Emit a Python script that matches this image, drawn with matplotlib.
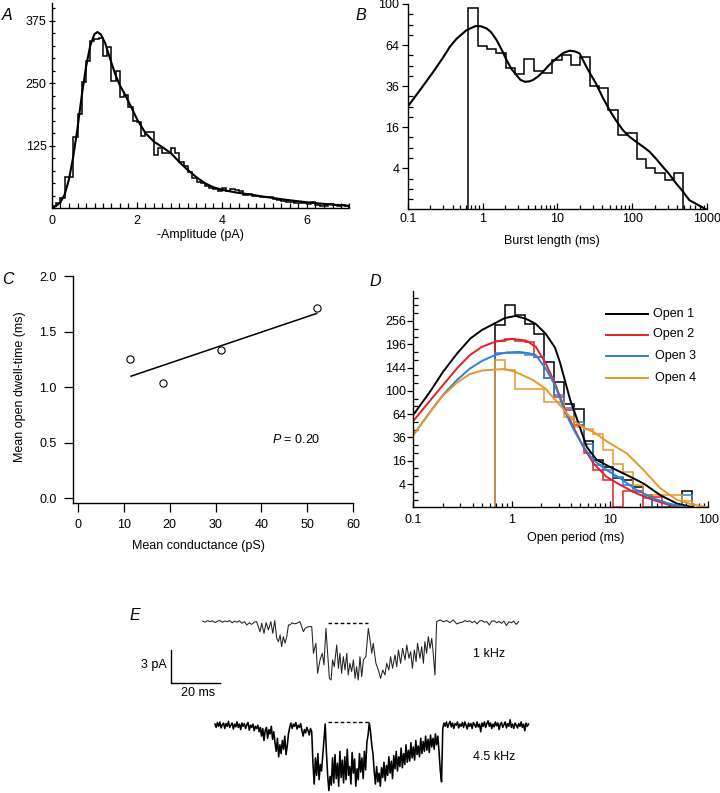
import numpy as np
import matplotlib
matplotlib.use('Agg')
import matplotlib.pyplot as plt
from matplotlib.lines import Line2D
from matplotlib.ticker import (FixedLocator, FixedFormatter, NullFormatter,
                               LogLocator, MultipleLocator, FormatStrFormatter)

plt.rcParams['font.family'] = ['Liberation Sans', 'DejaVu Sans']
plt.rcParams['mathtext.fontset'] = 'custom'
plt.rcParams['mathtext.it'] = 'Liberation Sans:italic'
plt.rcParams['mathtext.rm'] = 'Liberation Sans'

# ---------------- DATA ----------------
# A: amplitude histogram (bin width 0.1 pA, from 0)
amp_bin_width = 0.1
amp_counts = [5, 10, 20, 62, 62, 143, 188, 252, 295, 335,
              338, 340, 305, 322, 255, 275, 223, 227, 202, 175,
              173, 145, 153, 153, 107, 120, 110, 110, 120, 110,
              92, 85, 73, 60, 53, 50, 45, 40, 38, 35,
              41, 35, 38, 37, 35, 27, 28, 25, 25, 22,
              23, 23, 18, 17, 15, 13, 13, 11, 10, 11,
              9, 12, 7, 5, 5, 9, 7, 5, 6, 5]
amp_fit_x = [0, 0.1, 0.2, 0.3, 0.4, 0.5, 0.6, 0.7, 0.8, 0.9, 1.0, 1.07, 1.15, 1.25,
             1.4, 1.5, 1.6, 1.7, 1.8, 1.9, 2.0, 2.2, 2.4, 2.6, 2.8, 3.0, 3.2, 3.4,
             3.6, 3.8, 4.0, 4.3, 4.7, 5.0, 5.5, 6.0, 6.5, 7.0]
amp_fit_y = [0, 5, 12, 28, 58, 103, 160, 225, 282, 325, 348, 352, 347, 330,
             290, 265, 245, 230, 213, 196, 178, 150, 133, 122, 110, 92, 76, 62,
             50, 42, 37, 32, 27, 23, 17, 12, 8, 5]
amp_xticks = [0, 2, 4, 6]
amp_yticks = [125, 250, 375]

# B: burst length histogram (log bins, 8 per decade)
burst_first_edge = 0.643
burst_bins_per_decade = 8
burst_counts = [95.8, 63.3, 60.7, 57.7, 47.2, 43.4, 53.4, 45.6, 44.3, 52.9,
                56.5, 49.4, 54.8, 36.0, 35.1, 23.4, 13.1, 13.9, 5.9, 4.0,
                3.1, 2.0, 3.1]
burst_fit_x = [0.1, 0.146, 0.22, 0.3, 0.366, 0.45, 0.612, 0.81, 0.95, 1.13, 1.3,
               1.54, 1.8, 2.09, 2.45, 2.84, 3.2, 3.66, 4.2, 4.73, 5.5, 6.43, 7.8,
               9.7, 12, 14.6, 17, 19.8, 24.4, 28, 32.7, 40, 49.8, 60, 75, 90,
               113, 140, 170, 210, 256, 310, 386, 470, 580, 750, 970]
burst_fit_y = [25, 33.7, 44.9, 55, 62.7, 69, 76.2, 79.7, 79.5, 77.7, 74.5,
               68, 60.5, 52.9, 46.5, 42.8, 39.8, 38.6, 38.8, 39.7, 41.8, 44.9, 49.5,
               54, 58, 59.7, 59.2, 57.7, 48.3, 43, 37.7, 30, 23.4, 19, 14.9, 12.7,
               10.8, 9.3, 7.9, 6, 4.3, 3, 1.6, 0.8, 0.2, 0.05, 0]
burst_xticks = [0.1, 1, 10, 100, 1000]
burst_yticks = [4, 16, 36, 64, 100]

# C: open dwell-time vs conductance
cond = [11.3, 18.6, 31.2, 52.2]
dwell = [1.256, 1.036, 1.334, 1.717]
cond_fit = [11.6, 52.0]
dwell_fit = [1.10, 1.665]

# D: open period histograms (log bins, 10 per decade)
open_first_edge = 0.678
open_bins_per_decade = 10
open_counts = {
    'Open 1': [245, 301, 272, 248, 222, 155, 116, 79, 71, 32, 16.5, 11.8, 6.2,
               5.5, 3.1, 1.1, 0, 0, 0, 2.0],
    'Open 2': [204, 208, 204, 202, 166, 124, 89, 70, 50, 21.5, 10.3, 5.5, 0,
               2.0, 2.0, 0, 0.8, 0, 0, 0],
    'Open 3': [176, 176, 176, 172, 166, 124, 93, 72, 54, 30, 13, 10.3, 6.9,
               3.7, 1.8, 0.6, 0, 0, 0, 1.1],
    'Open 4': [161, 139, 104, 104, 104, 82, 82, 60, 47, 45, 40, 24, 14, 9.3,
               3.7, 1.1, 1.1, 1.1, 1.1, 0.3],
}
open_fit_x = {
    'Open 1': [0.1, 0.15, 0.2, 0.28, 0.38, 0.5, 0.68, 0.85, 1.1, 1.4, 1.76, 2.22,
               2.76, 3.1, 3.49, 3.94, 4.79, 5.8, 7.35, 10, 14.8, 21.9, 32.4, 48, 70],
    'Open 2': [0.1, 0.15, 0.2, 0.28, 0.377, 0.5, 0.678, 1.0, 1.4, 1.76, 2.22, 2.76,
               3.49, 4.4, 5.36, 6.78, 9.2, 12.7, 18.7, 27.5, 40, 60],
    'Open 3': [0.1, 0.15, 0.2, 0.28, 0.377, 0.5, 0.678, 0.9, 1.2, 1.5, 1.76, 2.22,
               2.76, 3.49, 4.4, 5.36, 6.78, 9.2, 12.7, 18.7, 27.5, 40, 60],
    'Open 4': [0.1, 0.15, 0.2, 0.28, 0.377, 0.5, 0.678, 0.85, 1.1, 1.66, 2.2, 3.1,
               4.2, 5.5, 6.78, 9.4, 14.8, 21.9, 32.4, 48, 70, 100],
}
open_fit_y = {
    'Open 1': [63, 100, 135, 175, 210, 232, 250, 264, 270, 262, 248, 222,
               188, 155, 118, 85, 52, 27, 16.5, 12, 7.7, 4.2, 1.1, 0.1, 0],
    'Open 2': [55, 85, 110, 143, 171, 190, 202, 209, 205, 190, 153, 113,
               70, 44, 27, 14.3, 6.9, 3.7, 1.4, 0.4, 0.04, 0],
    'Open 3': [38.5, 68, 93, 120, 142, 158, 171, 177, 178, 175, 171, 142,
               110, 67, 42, 27, 16.5, 10.3, 6.2, 2.2, 0.6, 0.1, 0],
    'Open 4': [38.5, 68, 92, 115, 131, 138, 140, 141, 135, 119, 104, 77,
               56, 46, 42, 31.7, 21.5, 10.3, 2.7, 0.4, 0.05, 0],
}
open_labels = ['Open 1', 'Open 2', 'Open 3', 'Open 4']
open_colors = ['#000000', '#e3202a', '#2f82d2', '#e8962e']
open_xticks = [0.1, 1, 10, 100]
open_yticks = [4, 16, 36, 64, 100, 144, 196, 256]

# E: single-channel traces (time ms, current pA)
trace1_t = [0, 1, 2, 3, 4, 5, 6, 7, 8, 9, 10, 11, 12, 13, 14, 15, 16, 17, 18, 19, 20, 21,
            22.0, 22.7, 23.4, 24.1, 25.0, 25.9, 26.8, 27.8, 28.6, 29.4, 30.2, 30.9,
            31.6, 32.2, 32.9, 33.6, 34.3, 35.0, 35.6, 36.5, 37.4, 38.4, 39.7, 41.1,
            41.8, 43.1, 44.5, 45.2, 46.2, 46.9, 47.9, 48.8, 49.5, 50.3, 51.0, 51.7,
            52.4, 53.0, 53.7, 54.7, 55.4, 56.0, 56.7, 57.4, 58.1, 58.8, 59.4, 60.1,
            60.8, 61.5, 62.2, 62.8, 63.5, 64.2, 64.9, 65.6, 66.6, 67.6, 68.3, 69.0,
            69.6, 70.7, 71.7, 72.6, 73.5, 74.4, 75.1, 76.0, 76.7, 77.5, 78.5, 79.2,
            79.9, 80.8, 81.6, 82.6, 83.3, 84.2, 84.9, 85.6, 86.4, 87.1, 87.7, 88.7,
            89.4, 90.1, 90.7, 91.4, 92.1, 92.8, 93.5, 94.1, 94.8, 95.5, 96.9, 98.2,
            99.6, 100.9, 102.3, 103.7, 105.0, 106, 107, 108, 109, 110, 111, 112, 113,
            114, 115, 116, 117, 118, 119, 120, 121, 122, 123, 124, 125, 126, 127,
            128, 129]
trace1_i = [0.05, -0.05, 0.1, 0.0, 0.08, -0.08, 0.05, 0.1, -0.05, 0.06, 0.0, 0.1,
            -0.1, 0.05, -0.05, 0.08, -0.15, 0.0, -0.3, -0.1, -0.25, -0.05,
            0.0, -0.46, -0.92, -0.15, -1.07, -0.09, -0.76, 0.0, -1.07, 0.1, -1.53,
            -1.83, -1.22, -2.29, -1.37, -1.98, -1.37, -0.3, -0.3, -0.1, -0.2, -0.15,
            0.0, -0.92, -0.61, -0.46, -0.46, -2.90, -1.98, -4.74, -3.51, -2.90,
            -3.97, -0.61, -2.90, -5.20, -5.35, -3.51, -4.13, -2.14, -4.28, -2.90,
            -4.74, -3.21, -4.43, -2.90, -4.89, -3.82, -4.58, -3.51, -5.20, -4.13,
            -5.35, -3.21, -5.04, -3.51, -3.21, -0.61, -1.68, -2.90, -1.98, -3.82,
            -4.43, -5.20, -4.43, -4.89, -3.82, -4.43, -3.21, -4.28, -3.06, -4.13,
            -2.60, -3.82, -2.45, -3.51, -2.14, -3.36, -2.75, -4.28, -2.60, -3.67,
            -1.98, -3.36, -2.29, -3.82, -1.83, -2.90, -1.37, -2.45, -1.53, -2.90,
            -4.89, 0.0, 0.16, 0.0, 0.1, -0.09, 0.16, -0.21, -0.09,
            -0.05, 0.1, 0.0, 0.08, -0.1, 0.05, -0.2, 0.06, 0.1, -0.05, 0.0, -0.3,
            0.05, 0.08, -0.1, 0.02, -0.15, 0.05, -0.35, 0.0, -0.1, 0.05, -0.25, 0.0]
trace2_t_start = 5.0
trace2_dt = 0.5
trace2_offset = -9.5
trace2_i = [0.1, -0.2, 0.25, -0.1, 0.3, -0.25, 0.05, 0.2, -0.3, 0.15,
            -0.1, 0.35, -0.2, 0.0, 0.2, -0.35, 0.1, -0.15, 0.3, -0.2,
            0.1, -0.4, 0.2, -0.1, 0.15, -0.3, 0.05, 0.25, -0.45, 0.0,
            -0.2, 0.1, -0.5, -0.1, -0.3, 0.0, -0.6,
            -0.2, -1.0, -0.3, -1.4, -0.5, -0.2, -1.2, -0.4, -0.8, -0.1, -1.3, -0.6,
            -1.6, -2.4, -1.2, -2.9, -1.8, -2.6, -1.4, -2.2, -1.0, -2.7, -1.9, -0.8,
            -0.2, 0.2, -0.3, 0.1, -0.1, 0.25, -0.35, 0.0, -0.2, 0.15, -0.5, -1.0,
            -0.4, -0.7, -0.2, -0.5, -0.9, -0.3, -0.6,
            -3.5, -5.4, -3.0, -4.6, -2.6, -5.0, -3.6, -4.2, -2.8, -1.5, 0.1,
            -2.5, -4.6, -6.0, -4.7, -5.5, -3.0, -5.3, -2.7, -4.9, -3.5,
            -5.6, -2.4, -4.8, -3.2, -5.3, -2.9, -5.0, -2.2, -4.6, -3.8,
            -5.4, -2.5, -4.4, -3.1, -5.6, -4.0, -5.0, -2.6, -4.3, -3.0,
            -4.9, -2.4, -4.1, -1.6, -0.9, 0.2,
            -0.6, -1.8, -2.6, -4.2, -5.4, -3.8, -5.2, -4.4, -5.6, -3.9,
            -4.8, -3.4, -5.1, -3.7, -4.6, -2.9, -4.4, -3.3, -4.9, -2.8,
            -4.0, -2.4, -4.2, -2.9, -3.8, -2.1, -3.9, -2.6, -3.6, -1.8,
            -3.4, -2.3, -3.3, -1.6, -3.0, -2.0, -3.2, -1.4, -2.7, -1.9,
            -2.9, -1.2, -2.6, -1.5, -2.4, -1.0, -2.3, -1.3, -2.5, -0.9,
            -2.0, -1.2, -2.2, -0.8, -1.8, -1.0, -2.5, -4.2, -5.2, -0.3,
            0.2, -0.1, 0.3, -0.2, 0.1, 0.35, -0.15, 0.2, -0.3, 0.15,
            0.0, 0.3, -0.25, 0.1, -0.1, 0.25, -0.2, 0.3, 0.0, -0.35,
            0.2, -0.1, 0.15, -0.3, 0.25, 0.05, -0.2, 0.3, -0.15, 0.1,
            -0.6, 0.2, -0.1, 0.3, -0.2, 0.15, 0.4, -0.1, 0.2, -0.3,
            0.1, -0.15, 0.3, -0.05, 0.2, -0.4, 0.1, 0.25, -0.2, 0.05,
            0.3, -0.25, 0.15, -0.1, 0.5, -0.2, 0.1, -0.3, 0.2, 0.0,
            -0.25, 0.15, -0.1, 0.3, -0.2, 0.1, -0.5, 0.2, -0.1, 0.1]
closed1_t = [51.0, 67.6]
closed2_t = [51.1, 68.3]

# ---------------- FIGURE ----------------
W, H = 720, 793
fig = plt.figure(figsize=(W / 100, H / 100), dpi=100)


def px_axes(x0, y0, x1, y1):
    return fig.add_axes([x0 / W, 1 - y1 / H, (x1 - x0) / W, (y1 - y0) / H])


def ftext(x, y, s, **kw):
    fig.text(x / W, 1 - y / H, s, **kw)


def style(ax):
    for s in ('top', 'right'):
        ax.spines[s].set_visible(False)
    for s in ('left', 'bottom'):
        ax.spines[s].set_linewidth(1.0)
    ax.patch.set_alpha(0)


def sqrt_f(v):
    return np.sqrt(np.maximum(v, 0))


def sq_f(v):
    return np.square(v)


FS = 9
LETTER = dict(fontsize=11.5, style='italic', va='center', ha='left')

# ---- A ----
axA = px_axes(52, 3, 349.5, 208.3)
style(axA)
amp_edges = np.arange(len(amp_counts) + 1) * amp_bin_width
axA.stairs(amp_counts, amp_edges, baseline=0, color='black', lw=1.1)
axA.plot(amp_fit_x, amp_fit_y, color='black', lw=1.5)
axA.set_xlim(0, 7)
axA.set_ylim(0, 410)
axA.xaxis.set_major_locator(FixedLocator(amp_xticks))
axA.xaxis.set_minor_locator(MultipleLocator(0.2))
axA.yaxis.set_major_locator(FixedLocator(amp_yticks))
axA.yaxis.set_minor_locator(MultipleLocator(25))
axA.tick_params(axis='x', which='major', direction='in', length=4.5, width=0.9, pad=4.5, labelsize=FS)
axA.tick_params(axis='x', which='minor', direction='in', length=3.5, width=0.9)
axA.tick_params(axis='y', which='major', direction='inout', length=5, width=0.9, pad=1.5, labelsize=FS)
axA.tick_params(axis='y', which='minor', direction='in', length=2.5, width=0.9)
ftext(200, 235, '-Amplitude (pA)', fontsize=FS, ha='center', va='center')
ftext(2, 15, 'A', **LETTER)

# ---- B ----
axB = px_axes(407.7, 4, 707, 209.3)
style(axB)
burst_edges = burst_first_edge * 10 ** (np.arange(len(burst_counts) + 1) / burst_bins_per_decade)
axB.set_xscale('log')
axB.set_yscale('function', functions=(sqrt_f, sq_f))
axB.stairs(burst_counts, burst_edges, baseline=0, color='black', lw=1.1)
axB.plot(burst_fit_x, burst_fit_y, color='black', lw=1.5)
axB.set_xlim(0.1, 1000)
axB.set_ylim(0, 100)
axB.xaxis.set_major_locator(FixedLocator(burst_xticks))
axB.xaxis.set_major_formatter(FixedFormatter(['0.1', '1', '10', '100', '1000']))
axB.xaxis.set_minor_locator(LogLocator(base=10, subs=np.arange(2, 10)))
axB.xaxis.set_minor_formatter(NullFormatter())
axB.yaxis.set_major_locator(FixedLocator(burst_yticks))
axB.yaxis.set_major_formatter(FixedFormatter([str(v) for v in burst_yticks]))
axB.yaxis.set_minor_locator(FixedLocator([(0.5 * k) ** 2 for k in range(1, 21)]))
axB.yaxis.set_minor_formatter(NullFormatter())
axB.tick_params(axis='x', which='major', direction='in', length=4.5, width=0.9, pad=3, labelsize=FS)
axB.tick_params(axis='x', which='minor', direction='in', length=3, width=0.9)
axB.tick_params(axis='y', which='major', direction='out', length=4.5, width=0.9, pad=1.5, labelsize=FS)
axB.tick_params(axis='y', which='minor', direction='in', length=3.5, width=0.9)
ftext(551.7, 241, 'Burst length (ms)', fontsize=FS, ha='center', va='center')
ftext(356, 15, 'B', **LETTER)

# ---- C ----
axC = px_axes(72.7, 276.3, 353.3, 503.3)
style(axC)
axC.plot(cond_fit, dwell_fit, color='black', lw=1.1)
axC.plot(cond, dwell, 'o', mfc='white', mec='black', ms=5.2, mew=0.8)
axC.set_xlim(-1.09, 60)
axC.set_ylim(-0.045, 2.0)
axC.xaxis.set_major_locator(MultipleLocator(10))
axC.yaxis.set_major_locator(MultipleLocator(0.5))
axC.yaxis.set_major_formatter(FormatStrFormatter('%.1f'))
axC.tick_params(direction='out', length=6.5, width=0.9, pad=5, labelsize=FS)
ftext(198, 546.5, 'Mean conductance (pS)', fontsize=FS, ha='center', va='center')
ftext(20, 387, 'Mean open dwell-time (ms)', fontsize=FS, ha='center', va='center', rotation=90)
axC.text(42.2, 0.53, r'$P$ = 0.20', fontsize=FS, ha='left', va='center')
ftext(2, 280, 'C', **LETTER)

# ---- D ----
axD = px_axes(413.3, 291, 708.3, 507.3)
style(axD)
axD.set_xscale('log')
axD.set_yscale('function', functions=(sqrt_f, sq_f))
for lab, col in zip(open_labels, open_colors):
    cnt = open_counts[lab]
    edges = open_first_edge * 10 ** (np.arange(len(cnt) + 1) / open_bins_per_decade)
    axD.stairs(cnt, edges, baseline=0, color=col, lw=1.1)
for lab, col in zip(open_labels, open_colors):
    axD.plot(open_fit_x[lab], open_fit_y[lab], color=col, lw=1.4)
axD.set_xlim(0.1, 100)
axD.set_ylim(0, 345)
axD.xaxis.set_major_locator(FixedLocator(open_xticks))
axD.xaxis.set_major_formatter(FixedFormatter(['0.1', '1', '10', '100']))
axD.xaxis.set_minor_locator(LogLocator(base=10, subs=np.arange(2, 10)))
axD.xaxis.set_minor_formatter(NullFormatter())
axD.yaxis.set_major_locator(FixedLocator(open_yticks))
axD.yaxis.set_major_formatter(FixedFormatter([str(v) for v in open_yticks]))
axD.yaxis.set_minor_locator(FixedLocator([(2 * k / 3) ** 2 for k in range(1, 28)]))
axD.yaxis.set_minor_formatter(NullFormatter())
axD.tick_params(axis='x', which='major', direction='in', length=4.5, width=0.9, pad=4.5, labelsize=FS)
axD.tick_params(axis='x', which='minor', direction='in', length=3, width=0.9)
axD.tick_params(axis='y', which='major', direction='out', length=4.5, width=0.9, pad=0.8, labelsize=FS)
axD.tick_params(axis='y', which='minor', direction='in', length=3.5, width=0.9)
ftext(576, 537.5, 'Open period (ms)', fontsize=FS, ha='center', va='center')
ftext(370, 281, 'D', **LETTER)
leg_y = [314, 334.5, 355.5, 377.7]
leg_tx = [653.3, 652.7, 655, 655]
for lab, col, y, tx in zip(open_labels, open_colors, leg_y, leg_tx):
    fig.add_artist(Line2D([606 / W, 647.5 / W], [1 - y / H, 1 - y / H], color=col, lw=1.4))
    ftext(tx, y, lab, fontsize=FS, ha='left', va='center')

# ---- E ----
axE = px_axes(130, 605, 540, 793)
axE.set_axis_off()
axE.set_xlim(-29.7, 137.7)
axE.set_ylim(-15.72, 1.53)
axE.plot(trace1_t, trace1_i, color='#222222', lw=0.75)
t2 = trace2_t_start + trace2_dt * np.arange(len(trace2_i))
axE.plot(t2, np.array(trace2_i) + trace2_offset, color='black', lw=1.15)
axE.plot(closed1_t, [-0.1, -0.1], color='black', lw=1.0, ls=(0, (2.6, 1.8)))
axE.plot(closed2_t, [trace2_offset + 0.3] * 2, color='black', lw=1.0, ls=(0, (2.6, 1.8)))
# scale bar: 3 pA, 20 ms
axE.plot([-12.9, -12.9, 7.1], [-2.6, -5.6, -5.6], color='black', lw=1.0)
ftext(166.7, 665, '3 pA', fontsize=FS, ha='right', va='center')
ftext(198.3, 693, '20 ms', fontsize=FS, ha='center', va='center')
ftext(473, 654, '1 kHz', fontsize=FS, ha='left', va='center')
ftext(473, 757.5, '4.5 kHz', fontsize=FS, ha='left', va='center')
ftext(130, 616, 'E', **LETTER)

fig.savefig('out.png', dpi=100)
